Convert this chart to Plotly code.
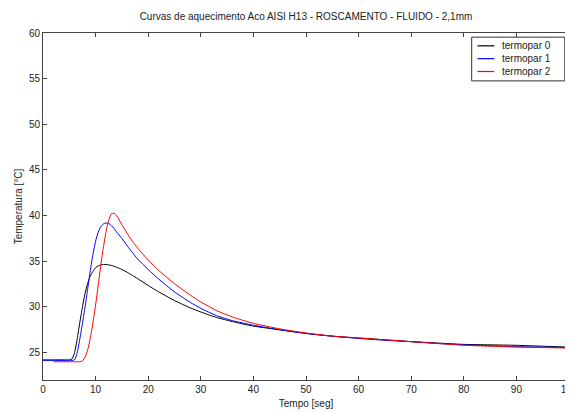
import plotly.graph_objects as go

# ---- data ----
t_a = [0, 2, 4, 5, 5.5, 6, 6.5, 7, 7.5, 8, 8.5, 9, 9.5, 10, 10.5, 11, 11.5, 12, 12.5,
       13, 13.5, 14, 15, 16, 17, 18, 20, 22, 25, 28, 30, 33, 36, 40, 45, 50, 55, 60,
       65, 70, 75, 80, 85, 90, 95, 100]

termopar0 = [24.2, 24.2, 24.2, 24.2, 24.3, 25.0, 26.5, 28.3, 30.0, 31.5, 32.6, 33.4, 33.9,
             34.3, 34.5, 34.6, 34.65, 34.65, 34.6, 34.55, 34.45, 34.35, 34.1, 33.8, 33.45,
             33.1, 32.35, 31.65, 30.7, 29.9, 29.45, 28.85, 28.4, 27.9, 27.5, 27.1, 26.8, 26.6,
             26.4, 26.2, 26.05, 25.9, 25.85, 25.8, 25.7, 25.6]

termopar1 = [24.15, 24.15, 24.15, 24.15, 24.15, 24.2, 25.0, 26.5, 28.2, 30.0, 32.0, 34.0,
             35.8, 37.2, 38.2, 38.8, 39.1, 39.2, 39.15, 38.9, 38.6, 38.2, 37.5, 36.7, 35.95,
             35.25, 34.1, 33.05, 31.65, 30.5, 29.85, 29.05, 28.5, 28.0, 27.5, 27.1, 26.8, 26.55,
             26.35, 26.2, 26.0, 25.85, 25.75, 25.65, 25.6, 25.55]

t_b = [2, 4, 6, 7, 7.5, 8, 8.5, 9, 9.5, 10, 10.5, 11, 11.5, 12, 12.5, 13, 13.5, 14, 15,
       16, 17, 18, 20, 22, 25, 28, 30, 33, 36, 40, 45, 50, 55, 60, 65, 70, 75, 80, 85,
       90, 95, 100]

termopar2 = [24.0, 24.0, 24.0, 24.0, 24.1, 24.5, 25.3, 26.6, 28.3, 30.2, 32.4, 34.6, 36.6,
             38.3, 39.5, 40.2, 40.25, 40.0, 39.0, 38.05, 37.2, 36.45, 35.15, 34.0, 32.55, 31.3,
             30.55, 29.6, 28.9, 28.2, 27.6, 27.15, 26.8, 26.6, 26.4, 26.2, 26.0, 25.8, 25.7,
             25.6, 25.55, 25.5]

series_names = ["termopar 0", "termopar 1", "termopar 2"]
series_colors = ["#000000", "#0000ff", "#ff0000"]

x_ticks = [0, 10, 20, 30, 40, 50, 60, 70, 80, 90, 100]
y_ticks = [25, 30, 35, 40, 45, 50, 55, 60]

font = "Liberation Sans, Arial, sans-serif"
txt = "#222"

fig = go.Figure()
for xs, ys, name, col in zip([t_a, t_a, t_b], [termopar0, termopar1, termopar2],
                             series_names, series_colors):
    fig.add_trace(go.Scatter(x=xs, y=ys, mode="lines", name=name, showlegend=False,
                             line=dict(color=col, width=1, shape="spline", smoothing=0.6)))

axis_common = dict(showgrid=False, zeroline=False, showline=True, linecolor="#444",
                   linewidth=1, mirror="ticks", ticks="inside", ticklen=4,
                   tickcolor="#444", tickfont=dict(size=10, color=txt, family=font))

fig.update_xaxes(range=[0, 100], tickvals=x_ticks, ticklabeloverflow="allow",
                 title=dict(text="Tempo [seg]", font=dict(size=10, color=txt, family=font),
                            standoff=5), **axis_common)
fig.update_yaxes(range=[22, 60], tickvals=y_ticks,
                 title=dict(text="Temperatura [°C]", font=dict(size=10, color=txt, family=font),
                            standoff=4), **axis_common)

# legend box drawn in paper coordinates (compact, Matlab-style)
fig.add_shape(type="rect", xref="paper", yref="paper", x0=0.815, x1=0.992, y0=0.862, y1=0.988,
              line=dict(color="#333", width=1), fillcolor="white", layer="above")
row_y = [0.963, 0.926, 0.889]
for name, col, yy in zip(series_names, series_colors, row_y):
    fig.add_shape(type="line", xref="paper", yref="paper", x0=0.826, x1=0.858, y0=yy, y1=yy,
                  line=dict(color=col, width=1.2), layer="above")
    fig.add_annotation(xref="paper", yref="paper", x=0.869, y=yy, text=name, showarrow=False,
                       xanchor="left", yanchor="middle",
                       font=dict(size=10, color=txt, family=font))

fig.update_layout(
    width=565, height=404,
    margin=dict(l=35, r=4, t=25, b=32, autoexpand=False),
    paper_bgcolor="white", plot_bgcolor="white",
    title=dict(text="Curvas de aquecimento Aco AISI H13 - ROSCAMENTO - FLUIDO - 2,1mm",
               x=0.5, xref="paper", xanchor="center", y=0.98, yref="container", yanchor="middle",
               font=dict(size=10, color=txt, family=font)),
    font=dict(family=font),
)

fig.write_html("out.html")
